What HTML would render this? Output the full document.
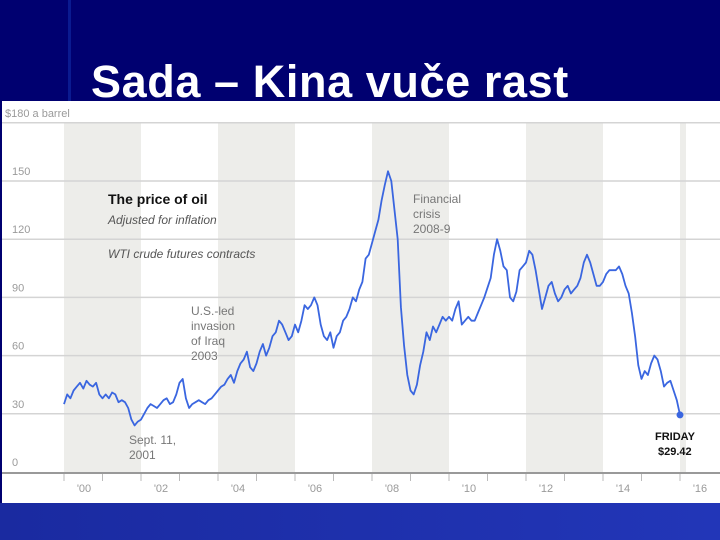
<!DOCTYPE html>
<html><head><meta charset="utf-8">
<style>
html,body{margin:0;padding:0;}
body{width:720px;height:540px;position:relative;overflow:hidden;background:#000070;font-family:"Liberation Sans",sans-serif;}
#stripe{position:absolute;left:68px;top:0;width:3px;height:540px;background:#0a1a90;}
#bottom{position:absolute;left:0;top:503px;width:720px;height:37px;background:linear-gradient(90deg,#1a2aa0,#2236b8);}
#title{position:absolute;left:91px;top:56px;font-size:45px;font-weight:bold;color:#fff;white-space:nowrap;letter-spacing:0.6px;}
svg{position:absolute;left:0;top:0;}
</style></head>
<body>
<div id="stripe"></div>
<div id="bottom"></div>
<div id="title">Sada – Kina vuče rast</div>
<svg id="chart" width="720" height="540"></svg>
<script>
const yTicks=[0,30,60,90,120,150];
const xTickLabels=["'00","'02","'04","'06","'08","'10","'12","'14","'16"];
const startYear=2000;
const prices2000=[35,40,38,42,44,46,43,47,45,44,46,40];
const prices2001=[38,40,38,41,40,36,37,36,33,27,24,26];
const prices2002=[27,30,33,35,34,33,35,37,38,35,36,40];
const prices2003=[46,48,38,33,35,36,37,36,35,37,38,40];
const prices2004=[42,44,45,48,50,46,52,56,58,62,54,52];
const prices2005=[56,62,66,60,64,70,72,78,76,72,68,70];
const prices2006=[76,72,78,86,84,86,90,86,76,70,68,72];
const prices2007=[64,70,72,78,80,84,90,88,94,98,110,112];
const prices2008=[118,124,130,140,148,155,150,135,120,85,65,50];
const prices2009=[42,40,45,55,62,72,68,75,72,76,80,78];
const prices2010=[80,78,84,88,76,78,80,78,78,82,86,90];
const prices2011=[95,100,112,120,114,106,104,90,88,93,104,106];
const prices2012=[108,114,112,104,94,84,90,96,98,92,88,90];
const prices2013=[94,96,92,94,96,100,108,112,108,102,96,96];
const prices2014=[98,102,104,104,104,106,102,96,92,82,70,55];
const prices2015=[48,52,50,56,60,58,52,44,46,47,42,37];
const prices2016=[29.42];

const prices=[].concat(prices2000,prices2001,prices2002,prices2003,prices2004,prices2005,prices2006,prices2007,prices2008,prices2009,prices2010,prices2011,prices2012,prices2013,prices2014,prices2015,prices2016);
const NS="http://www.w3.org/2000/svg";
const svg=document.getElementById('chart');
const x=t=>64+t*38.5;
const y=v=>472-v*1.94;
function mk(tag,attrs,parent){const e=document.createElementNS(NS,tag);for(const k in attrs)e.setAttribute(k,attrs[k]);(parent||svg).appendChild(e);return e;}

let e;
e=mk('rect',{x:2,y:101,width:718,height:402,fill:'#fff'});


[0,4,8,12,16].forEach(b=>{
  const w=b===16?6:x(b+2)-x(b);
  const r=mk('rect',{x:x(b),y:123,width:w,height:349,fill:'#ededea'});
  
  
});
[30,60,90,120,150,180].forEach(v=>{
  const l=mk('line',{x1:2,x2:720,y1:y(v),y2:y(v),stroke:'#d4d4d4','stroke-width':1.5});
  
  
});
e=mk('text',{x:5,y:117,'font-size':11,fill:'#9a9a9a'});e.textContent='$180 a barrel';


yTicks.forEach(v=>{
  const t=mk('text',{x:12,y:y(v)-6,'font-size':11,fill:'#9a9a9a'});t.textContent=v;
  
  
});
e=mk('line',{x1:2,x2:720,y1:473,y2:473,stroke:'#999','stroke-width':2});


for(let i=0;i<=16;i++){
  const l=mk('line',{x1:x(i),x2:x(i),y1:474,y2:481,stroke:'#bbb','stroke-width':1});
  
  
}
xTickLabels.forEach((s,i)=>{
  const t=mk('text',{x:x(i*2)+20,y:492,'font-size':11,fill:'#9a9a9a','text-anchor':'middle'});t.textContent=s;
  
  
});
const pts=prices.map((v,i)=>x(i/12).toFixed(1)+','+y(v).toFixed(1)).join(' ');
e=mk('polyline',{points:pts,fill:'none',stroke:'#3a66e0','stroke-width':1.8,'stroke-linejoin':'round'});


const last=prices.length-1;
e=mk('circle',{cx:x(last/12),cy:y(prices[last]),r:3.5,fill:'#3a66e0'});


function txt(s,xx,yy,o,name){const t=mk('text',Object.assign({x:xx,y:yy,'font-size':12,fill:'#777'},o||{}));t.textContent=s;
  
  }
txt('The price of oil',108,204,{'font-size':14,'font-weight':'bold',fill:'#111'},'chart-title');
txt('Adjusted for inflation',108,224,{'font-style':'italic',fill:'#555'},'chart-subtitle');
txt('WTI crude futures contracts',108,258,{'font-style':'italic',fill:'#555'},'chart-source-note');
['U.S.-led','invasion','of Iraq','2003'].forEach((s,i)=>txt(s,191,315+i*15,{},'iraq-annotation'));
['Sept. 11,','2001'].forEach((s,i)=>txt(s,129,444+i*15,{},'sept11-annotation'));
['Financial','crisis','2008-9'].forEach((s,i)=>txt(s,413,203+i*15,{},'crisis-annotation'));
txt('FRIDAY',655,440,{'font-weight':'bold',fill:'#111','font-size':11},'friday-label');
txt('$29.42',658,455,{'font-weight':'bold',fill:'#111','font-size':11},'friday-value');
</script>
</body></html>
